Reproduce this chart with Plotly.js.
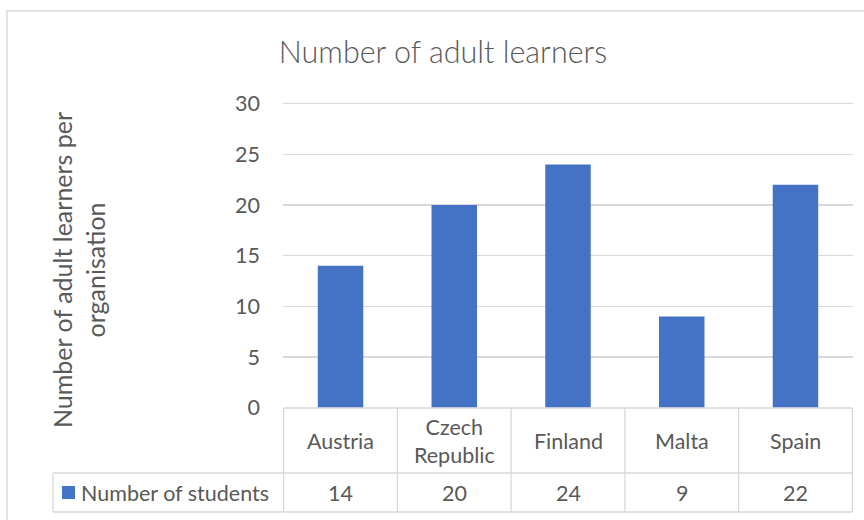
<!DOCTYPE html>
<html>
<head>
<meta charset="utf-8">
<script src="https://cdn.plot.ly/plotly-3.0.1.min.js"></script>
<style>
  html, body { margin: 0; padding: 0; background: #fff; }
  #chart { width: 864px; height: 520px; }
</style>
</head>
<body>
<div id="chart"></div>
<script>
const categories = ["Austria", "Czech Republic", "Finland", "Malta", "Spain"];
const categoryLabels = ["Austria", "Czech<br>Republic", "Finland", "Malta", "Spain"];
const students = [14, 20, 24, 9, 22];
const seriesName = "Number of students";
const yTicks = [0, 5, 10, 15, 20, 25, 30];

const FONT = "Lato, 'Open Sans', 'Liberation Sans', sans-serif";
const TEXT = "#595959";
const GRID = "#d9d9d9";
const BAR = "#4472C4";

// plot area geometry in pixels (for converting to paper coords)
const L = 283, R = 853, T = 101, B = 408;
const W = R - L, H = B - T;
const px = x => (x - L) / W;
const py = y => (B - y) / H;

const trace = {
  type: "bar",
  x: categories,
  y: students,
  name: seriesName,
  marker: { color: BAR },
  showlegend: false,
  hoverinfo: "x+y"
};

const shapes = [];
const line = (x0, y0, x1, y1, xref) => shapes.push({
  type: "line", xref: xref || "x", yref: "paper",
  x0: x0, y0: y0, x1: x1, y1: y1,
  line: { color: GRID, width: 1.3 }, layer: "above"
});

// table lines
const n = categories.length;
const rowMid = py(473), rowBot = py(512);
line(-0.5, 0, n - 0.5, 0);
line(-0.5, 0, -0.5, rowBot);
for (let i = 0; i < n; i++) line(i + 0.5, 0, i + 0.5, rowBot);
line(-0.5, rowMid, n - 0.5, rowMid);
line(-0.5, rowBot, n - 0.5, rowBot);
line(px(53), rowMid, 0, rowMid, "paper");
line(px(53), rowBot, 0, rowBot, "paper");
line(px(53), rowMid, px(53), rowBot, "paper");

// legend key square
shapes.push({
  type: "rect", xref: "paper", yref: "paper",
  x0: px(62), x1: px(75), y0: py(499), y1: py(486),
  fillcolor: BAR, line: { width: 0 }
});

// outer chart border
shapes.push({
  type: "rect", xref: "paper", yref: "paper",
  x0: px(7), x1: px(900), y0: py(560), y1: py(11),
  line: { color: GRID, width: 1.5 }, fillcolor: "rgba(0,0,0,0)", layer: "below"
});

const TS = 21.5;
const annotations = [];
categories.forEach((c, i) => {
  annotations.push({
    x: c, xref: "x", y: py(441), yref: "paper",
    text: categoryLabels[i], showarrow: false,
    xanchor: "center", yanchor: "middle",
    font: { family: FONT, size: TS, color: TEXT }
  });
  annotations.push({
    x: c, xref: "x", y: py(493), yref: "paper",
    text: String(students[i]), showarrow: false,
    xanchor: "center", yanchor: "middle",
    font: { family: FONT, size: TS, color: TEXT }
  });
});
annotations.push({
  x: px(79), xref: "paper", y: py(493), yref: "paper",
  text: seriesName, showarrow: false,
  xanchor: "left", yanchor: "middle",
  font: { family: FONT, size: TS, color: TEXT }
});
annotations.push({
  x: px(78), xref: "paper", y: py(270), yref: "paper",
  text: "Number of adult learners per<br>organisation", showarrow: false,
  textangle: -90, xanchor: "center", yanchor: "middle",
  font: { family: FONT, size: 25, color: TEXT }
});

const layout = {
  width: 864, height: 520,
  margin: { l: L, r: 864 - R, t: T, b: 520 - B, pad: 0 },
  paper_bgcolor: "#ffffff", plot_bgcolor: "#ffffff",
  title: {
    text: "Number of adult learners",
    x: 443 / 864, xanchor: "center",
    y: 1 - 52 / 520, yanchor: "middle", yref: "container",
    font: { family: FONT, size: 30.5, color: TEXT, weight: 300 }
  },
  bargap: 0.6,
  xaxis: {
    type: "category", showticklabels: false, showgrid: false,
    zeroline: false, showline: false, ticks: ""
  },
  yaxis: {
    range: [-0.03, 30.27], tickvals: yTicks, showgrid: true, gridcolor: GRID, gridwidth: 1.3,
    zeroline: false, showline: false, ticks: "",
    ticklabelstandoff: 22,
    tickfont: { family: FONT, size: 21.5, color: TEXT }
  },
  shapes: shapes,
  annotations: annotations
};

Plotly.newPlot("chart", [trace], layout, { displayModeBar: false, staticPlot: true });
</script>
</body>
</html>
